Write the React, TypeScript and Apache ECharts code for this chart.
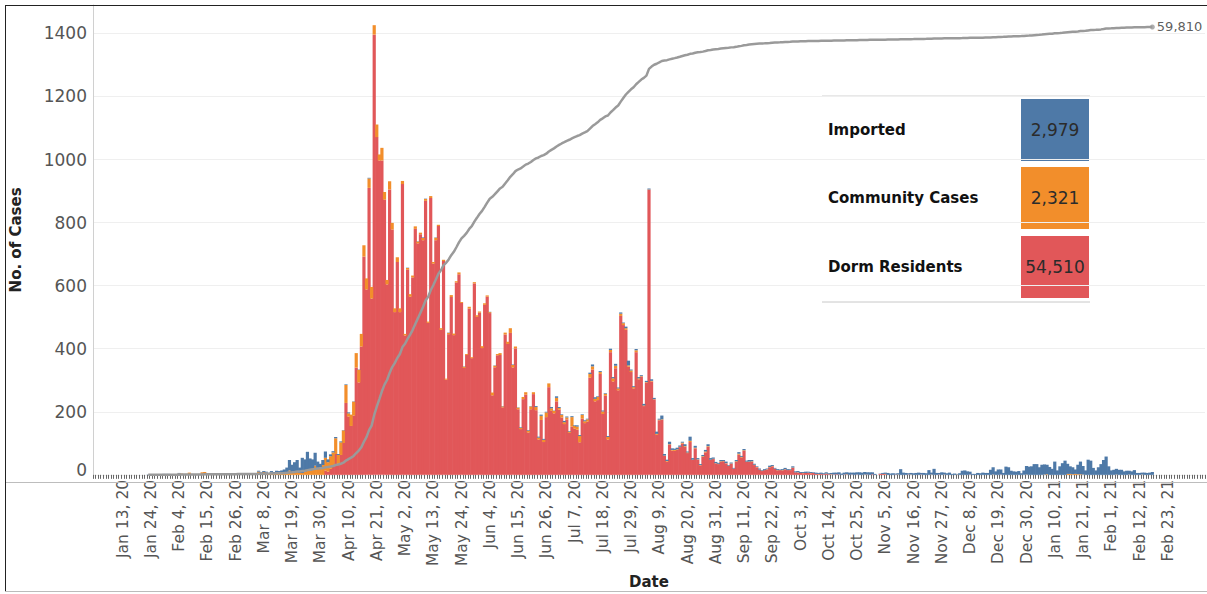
import React, { useEffect, useRef } from "react";
import * as echarts from "echarts";

// ---------- DATA ----------
// Axis runs day by day from 2 Jan 2020 to 9 Mar 2021; data ends 17 Feb 2021.
const START_UTC = Date.UTC(2020, 0, 2);
const N_DAYS = 433;
const LAST_DATA_DAY = Date.UTC(2021, 1, 17);
const MONTH_NAMES = ["Jan", "Feb", "Mar", "Apr", "May", "Jun", "Jul", "Aug", "Sep", "Oct", "Nov", "Dec"];

// One row per month (row 0 = Jan 2020 ... row 13 = Feb 2021), values by day of month from day 1.
const importedByMonth: number[][] = [
  [0, 0, 0, 0, 0, 0, 0, 0, 0, 0, 0, 0, 0, 0, 0, 0, 0, 0, 0, 0, 0, 0, 1, 2, 0, 1, 1, 2, 3, 3, 3],
  [2, 0, 0, 2],
  [0, 1, 0, 0, 2, 3, 2, 3, 3, 2, 5, 5, 7, 7, 9, 11, 17, 33, 24, 30, 38, 17, 48, 39, 60, 39, 33, 41, 23, 11, 16],
  [20, 9, 6, 4, 4, 3, 3, 1, 2, 3, 0, 1, 0, 1, 0, 0, 0, 2],
  [0, 0, 1, 0, 0, 0, 1, 0, 2, 1, 0, 0, 0, 1, 0, 0, 0, 0, 1, 0, 0, 0, 0, 0, 1],
  [0, 0, 0, 1, 0, 1, 0, 0, 1, 0, 0, 0, 2, 0, 1, 2, 0, 0, 2, 1, 0, 3, 3, 4, 3, 2, 0, 4, 1, 5],
  [3, 2, 4, 3, 2, 3, 2, 4, 3, 2, 3, 2, 4, 6, 5, 2, 3, 3, 2, 3, 4, 4, 6, 3, 4, 2, 5, 15, 3, 3, 4],
  [4, 3, 5, 4, 3, 5, 4, 7, 3, 12, 5, 4, 8, 5, 4, 5, 4, 3, 6, 3, 13, 5, 6, 4, 3, 4, 5, 6, 5, 4, 4],
  [3, 4, 3, 5, 2, 3, 2, 4, 5, 3, 4, 3, 5, 4, 3, 2, 3, 2, 3, 2, 4, 3, 2, 3, 2, 3, 4, 3, 2, 4],
  [3, 4, 3, 3, 4, 3, 3, 2, 4, 3, 4, 3, 4, 3, 4, 6, 5, 7, 4, 6, 6, 7, 6, 7, 7, 8, 7, 8, 7, 8, 6],
  [3, 0, 1, 3, 4, 6, 4, 5, 3, 4, 18, 7, 6, 4, 5, 5, 6, 7, 5, 6, 5, 15, 6, 19, 6, 5, 8, 6, 5, 7],
  [3, 4, 2, 5, 13, 14, 11, 9, 3, 3, 6, 5, 7, 6, 6, 16, 23, 11, 17, 16, 6, 26, 24, 13, 11, 10, 12, 5, 14, 27, 26],
  [27, 34, 34, 24, 32, 32, 30, 25, 19, 42, 14, 27, 37, 45, 32, 24, 22, 14, 30, 40, 27, 14, 48, 45, 22, 14, 24, 34, 47, 58, 27],
  [14, 16, 18, 16, 16, 11, 13, 12, 11, 15, 6, 6, 6, 7, 6, 7, 9],
];

const communityByMonth: number[][] = [
  [],
  [0, 0, 0, 4, 4, 2, 3, 7, 3, 2, 2, 3, 8, 9, 5, 3, 2, 4, 3, 1, 1, 3, 0, 1, 1, 2, 3, 2, 4],
  [4, 1, 2, 2, 3, 10, 6, 9, 7, 4, 7, 4, 6, 5, 5, 6, 6, 14, 8, 10, 9, 6, 6, 10, 13, 13, 16, 29, 19, 24, 31],
  [40, 30, 40, 40, 50, 28, 40, 40, 57, 10, 36, 44, 46, 40, 40, 36, 35, 30, 37, 30, 40, 19, 40, 24, 14, 26, 21, 12, 15, 12],
  [10, 5, 5, 8, 6, 8, 6, 5, 7, 6, 4, 6, 5, 8, 4, 5, 4, 3, 4, 6, 5, 4, 6, 3, 4, 3, 6, 3, 4, 5, 4],
  [6, 5, 4, 3, 9, 5, 4, 6, 3, 6, 7, 15, 8, 6, 5, 4, 7, 8, 6, 9, 6, 10, 6, 13, 7, 15, 12, 8, 8, 11],
  [5, 8, 6, 6, 4, 30, 8, 10, 20, 12, 6, 7, 12, 10, 8, 10, 6, 8, 6, 8, 7, 10, 8, 6, 7, 6, 5, 4, 5, 4, 6],
  [3, 2, 2, 2, 1, 2, 1, 3, 2, 2, 1, 2, 2, 2, 3, 2, 1, 3, 2, 2, 4, 1, 2, 1, 1, 2, 3, 2, 1, 1, 1],
  [1, 2, 1, 1, 1, 1, 0, 2, 3, 2, 2, 1, 1, 2, 1, 1, 0, 1, 0, 1, 1, 1, 0, 1, 0, 1, 1, 0, 1, 1],
  [0, 1, 0, 1, 0, 0, 1, 0, 0, 1, 0, 0, 1, 0, 1, 0, 0, 0, 0, 0, 1, 0, 0, 0, 0, 0, 0, 1, 0, 0, 0],
  [0, 0, 0, 0, 1, 0, 0, 0, 0, 1, 0, 0, 0, 0, 1, 0, 0, 0, 0, 0, 0, 0, 1, 0, 0, 0, 0, 1, 0, 0],
  [0, 0, 1, 0, 0, 0, 0, 0, 0, 0, 0, 0, 0, 0, 0, 0, 1, 0, 0, 0, 0, 0, 0, 0, 0, 0, 0, 0, 0, 1, 0],
  [0, 0, 0, 0, 0, 1, 2, 0, 0, 0, 0, 0, 0, 0, 3, 3, 2, 3, 2, 2, 1],
  [0, 0, 1, 0, 0, 0, 0, 1, 0, 0, 0, 0, 1],
];

const dormByMonth: number[][] = [
  [],
  [],
  [],
  [14, 10, 19, 31, 66, 35, 63, 101, 228, 185, 155, 188, 340, 293, 407, 692, 588, 910, 559, 1396, 1071, 997, 997, 873, 604, 905, 778, 516, 675, 516],
  [922, 442, 651, 565, 626, 780, 734, 763, 744, 869, 482, 878, 670, 744, 789, 460, 678, 302, 446, 564, 443, 610, 636, 545, 339, 380, 527, 370, 607, 501, 514],
  [402, 539, 565, 513, 252, 341, 379, 380, 214, 445, 415, 450, 340, 401, 208, 145, 240, 254, 134, 208, 256, 205, 112, 174, 104, 183, 278, 203, 195, 233],
  [207, 182, 161, 176, 133, 153, 147, 143, 103, 178, 164, 169, 308, 334, 233, 237, 320, 193, 251, 112, 389, 296, 338, 268, 504, 475, 460, 343, 326, 274, 389],
  [303, 311, 218, 292, 904, 296, 239, 127, 173, 174, 60, 42, 95, 77, 76, 79, 88, 99, 89, 69, 104, 47, 84, 48, 30, 57, 71, 89, 47, 50, 36],
  [34, 41, 43, 36, 28, 35, 20, 41, 64, 55, 76, 41, 41, 41, 31, 24, 17, 12, 15, 17, 24, 27, 20, 14, 15, 14, 17, 15, 15, 22],
  [8, 7, 6, 5, 6, 7, 5, 6, 3, 2, 3, 2, 3, 2, 1, 1, 2, 1, 0, 1, 1, 0, 1, 0, 1, 0, 0, 0, 1, 0, 2],
  [0, 0, 3, 3, 2, 0, 0, 0, 1, 0, 0, 0, 0, 1, 0, 0, 0, 0, 1, 0, 0, 0, 0, 0, 0, 1, 0, 0, 0, 0],
  [0, 0, 0, 0, 0, 0, 0, 1, 0, 0, 0, 0, 0, 0, 0, 0, 0, 0, 0, 1],
  [],
  [],
];

const CATEGORY_NAMES = ["Imported", "Community Cases", "Dorm Residents"];
const CATEGORY_TOTALS = [2979, 2321, 54510];
const CATEGORY_COLORS = ["#4e79a7", "#f28e2b", "#e15759"];

const Y_MAX = 1490;
const Y_INTERVAL = 200;

// ---------- helpers ----------
const DAY_MS = 86400000;
const LAST_IDX = Math.round((LAST_DATA_DAY - START_UTC) / DAY_MS);

function fmtDate(i: number): string {
  const d = new Date(START_UTC + i * DAY_MS);
  return `${MONTH_NAMES[d.getUTCMonth()]} ${d.getUTCDate()}, ${String(d.getUTCFullYear()).slice(2)}`;
}

function expand(rows: number[][]): (number | null)[] {
  const out: (number | null)[] = new Array(N_DAYS).fill(null);
  for (let i = 0; i <= LAST_IDX; i++) out[i] = 0;
  rows.forEach((row, m) => {
    const y = 2020 + Math.floor(m / 12);
    const mo = m % 12;
    row.forEach((v, d) => {
      const idx = Math.round((Date.UTC(y, mo, d + 1) - START_UTC) / DAY_MS);
      if (idx >= 0 && idx <= LAST_IDX) out[idx] = v;
    });
  });
  return out;
}

export default function App() {
  const ref = useRef<HTMLDivElement>(null);

  useEffect(() => {
    document.body.style.margin = "0";
    if (!ref.current) return;
    const chart = echarts.init(ref.current, undefined, { renderer: "svg" });

    const labels = Array.from({ length: N_DAYS }, (_, i) => fmtDate(i));
    const imported = expand(importedByMonth);
    const community = expand(communityByMonth);
    const dorm = expand(dormByMonth);

    const cumulative: (number | null)[] = new Array(N_DAYS).fill(null);
    let run = 0;
    let started = false;
    for (let i = 0; i <= LAST_IDX; i++) {
      const day = (imported[i] || 0) + (community[i] || 0) + (dorm[i] || 0);
      run += day;
      if (run > 0) started = true;
      if (started) cumulative[i] = run;
    }
    const endPoint: (number | null)[] = new Array(N_DAYS).fill(null);
    endPoint[LAST_IDX] = run;
    const lineMax = (run * 477) / 454.7;
    const totalLabel = CATEGORY_TOTALS.reduce((a, b) => a + b, 0).toLocaleString("en-US");

    const FONT = "DejaVu Sans";

    const legendRows = CATEGORY_NAMES.map((name, k) => {
      const top = [99, 167, 236][k];
      return [
        {
          type: "text",
          x: 828,
          y: top + 31,
          style: {
            text: name,
            fontFamily: FONT,
            fontWeight: "bold",
            fontSize: 15,
            fill: "#111",
            align: "left",
            verticalAlign: "middle",
          },
        },
        {
          type: "rect",
          shape: { x: 1021, y: top, width: 68, height: 62 },
          style: { fill: CATEGORY_COLORS[k] },
        },
        {
          type: "text",
          x: 1055,
          y: top + 31,
          style: {
            text: CATEGORY_TOTALS[k].toLocaleString("en-US"),
            fontFamily: FONT,
            fontSize: 17,
            fill: "#2b2b2b",
            align: "center",
            verticalAlign: "middle",
          },
        },
      ];
    }).flat();

    const barSeries = (k: number, data: (number | null)[]) => ({
      name: CATEGORY_NAMES[k],
      type: "bar",
      stack: "cases",
      data,
      barWidth: 3.2,
      barCategoryGap: "0%",
      itemStyle: { color: CATEGORY_COLORS[k] },
    });

    const option: any = {
      animation: false,
      textStyle: { fontFamily: FONT },
      grid: { left: 88, right: 2, top: 5, bottom: 112, containLabel: false },
      xAxis: {
        type: "category",
        data: labels,
        boundaryGap: true,
        axisLine: { show: false },
        axisTick: { show: true, interval: 0, length: 4, lineStyle: { color: "#666", width: 1 } },
        axisLabel: {
          interval: (i: number) => i > 0 && i <= 418 && i % 11 === 0,
          rotate: 90,
          fontSize: 15.5,
          color: "#555",
          margin: 5,
          fontFamily: FONT,
        },
        splitLine: { show: false },
        name: "Date",
        nameLocation: "middle",
        nameGap: 99,
        nameTextStyle: { fontSize: 15, fontWeight: "bold", color: "#222", fontFamily: FONT },
      },
      yAxis: [
        {
          type: "value",
          min: 0,
          max: Y_MAX,
          interval: Y_INTERVAL,
          axisLine: { show: true, lineStyle: { color: "#d0d0d0" } },
          axisTick: { show: false },
          splitLine: { show: true, lineStyle: { color: "#efefef", width: 1 } },
          axisLabel: {
            fontSize: 17,
            color: "#555",
            margin: 6,
            fontFamily: FONT,
            formatter: (v: number) => (v === 0 ? "{z|0}" : v % Y_INTERVAL === 0 ? String(v) : ""),
            rich: { z: { padding: [0, 0, 10, 0], fontSize: 17, color: "#555", fontFamily: FONT } },
          },
          name: "No. of Cases",
          nameLocation: "middle",
          nameGap: 70,
          nameRotate: 90,
          nameTextStyle: { fontSize: 15, fontWeight: "bold", color: "#222", fontFamily: FONT },
        },
        { type: "value", min: 0, max: lineMax, show: false, splitLine: { show: false } },
      ],
      series: [
        barSeries(2, dorm),
        barSeries(1, community),
        barSeries(0, imported),
        {
          name: "Cumulative",
          type: "line",
          yAxisIndex: 1,
          data: cumulative,
          showSymbol: false,
          connectNulls: false,
          lineStyle: { color: "#9a9a9a", width: 2.5 },
          z: 5,
        },
        {
          name: "Total",
          type: "scatter",
          yAxisIndex: 1,
          data: endPoint,
          symbolSize: 5,
          itemStyle: { color: "#9a9a9a" },
          z: 6,
          label: {
            show: true,
            position: "right",
            distance: 2,
            formatter: () => totalLabel,
            fontSize: 13,
            color: "#333",
            fontFamily: FONT,
          },
        },
      ],
      graphic: [
        { type: "line", shape: { x1: 5, y1: 482.5, x2: 1207, y2: 482.5 }, style: { stroke: "#bdbdbd", lineWidth: 1 }, z: 50 },
        { type: "line", shape: { x1: 5, y1: 5.5, x2: 1207, y2: 5.5 }, style: { stroke: "#222", lineWidth: 1 }, z: 50 },
        { type: "line", shape: { x1: 5.5, y1: 5, x2: 5.5, y2: 592 }, style: { stroke: "#222", lineWidth: 1 }, z: 50 },
        { type: "line", shape: { x1: 5, y1: 591.5, x2: 1207, y2: 591.5 }, style: { stroke: "#bbb", lineWidth: 1 }, z: 50 },
        {
          type: "group",
          z: 100,
          children: [
            { type: "rect", shape: { x: 822, y: 96, width: 268, height: 206 }, style: { fill: "#fff" } },
            { type: "line", shape: { x1: 822, y1: 96, x2: 1090, y2: 96 }, style: { stroke: "#d0d0d0", lineWidth: 1 } },
            { type: "line", shape: { x1: 822, y1: 302, x2: 1090, y2: 302 }, style: { stroke: "#c8c8c8", lineWidth: 1 } },
            ...legendRows,
          ],
        },
      ],
    };

    chart.setOption(option);
    return () => chart.dispose();
  }, []);

  return <div ref={ref} style={{ width: 1207, height: 594 }} />;
}
